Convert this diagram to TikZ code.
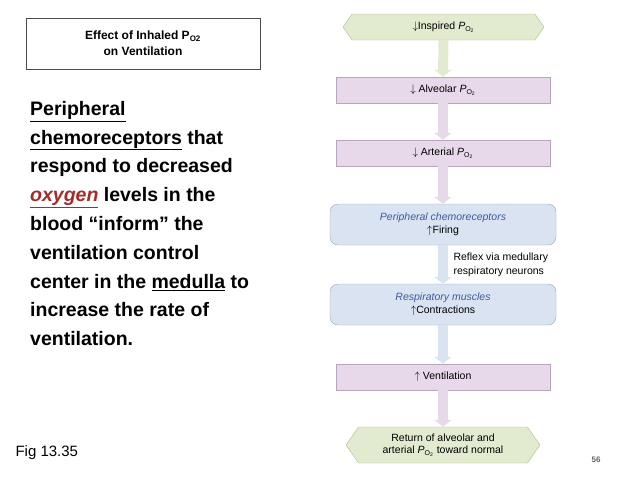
\documentclass[tikz,border=0pt]{standalone}
\usepackage{fontspec}
\setmainfont{Liberation Sans}
\usetikzlibrary{shapes.geometric,shapes.symbols,arrows.meta}
\definecolor{gfill}{HTML}{E2EACF}\definecolor{gdraw}{HTML}{AEBB8E}
\definecolor{pfill}{HTML}{E8D9EA}\definecolor{pdraw}{HTML}{B9A3BE}
\definecolor{bfill}{HTML}{DAE3F2}\definecolor{bdraw}{HTML}{93A6C4}
\definecolor{btext}{HTML}{3F5A9A}\definecolor{red1}{HTML}{A52A2A}
\newcommand{\PO}{\textit{P}\textsubscript{\scriptsize O\textsubscript{2}}}
\begin{document}
\begin{tikzpicture}[x=1pt,y=-1pt,
  hexb/.style={signal,signal to=east and west,signal pointer angle=110,draw=gdraw,fill=gfill,font=\fontsize{10.5}{12}\selectfont,align=center,inner sep=0pt},
  pbox/.style={draw=pdraw,fill=pfill,minimum width=214pt,minimum height=26pt,font=\fontsize{10.5}{12}\selectfont},
  bbox/.style={draw=bdraw,fill=bfill,rounded corners=8pt,minimum width=226pt,minimum height=41pt,font=\fontsize{10.5}{13}\selectfont,align=center},
  garr/.style={line width=10pt,draw=gfill,-{Triangle[width=17pt,length=7pt]}},
  parr/.style={line width=10pt,draw=pfill,-{Triangle[width=17pt,length=7pt]}},
  barr/.style={line width=10pt,draw=bfill,-{Triangle[width=17pt,length=7pt]}}]
\useasboundingbox (0,0) rectangle (641,482);
\node[draw=black!70,minimum width=234pt,minimum height=51pt,align=center,font=\bfseries\fontsize{12}{16}\selectfont] (title) at (143,43.5) {Effect of Inhaled P\textsubscript{O2}\\on Ventilation};
\node[anchor=north west,align=left,inner sep=0pt,font=\bfseries\fontsize{19.5}{28.8}\selectfont] (para) at (30,101) {\underline{Peripheral}\\\underline{chemoreceptors} that\\respond to decreased\\\textcolor{red1}{\underline{\textit{oxygen}}} levels in the\\blood “inform” the\\ventilation control\\center in the \underline{medulla} to\\increase the rate of\\ventilation.};
\node[anchor=west,font=\fontsize{15}{17}\selectfont] (fig) at (12,453) {Fig 13.35};
\node[font=\bfseries\fontsize{8}{9}\selectfont,text=black!60] (pg) at (596,460) {56};
\node[hexb,minimum width=201pt,minimum height=26pt] (insp) at (443.5,27) {$\downarrow$Inspired \PO};
\node[pbox] (alv) at (443,90) {$\downarrow$ Alveolar \PO};
\node[pbox] (art) at (443,153) {$\downarrow$ Arterial \PO};
\node[bbox] (per) at (443,224.5) {\textcolor{btext}{\textit{Peripheral chemoreceptors}}\\$\uparrow$Firing};
\node[bbox] (res) at (443,304.5) {\textcolor{btext}{\textit{Respiratory muscles}}\\$\uparrow$Contractions};
\node[pbox] (ven) at (443,377) {$\uparrow$ Ventilation};
\node[hexb,minimum width=194pt,minimum height=36pt] (ret) at (443,445) {Return of alveolar and\\arterial \PO\ toward normal};
\node[anchor=west,align=left,font=\fontsize{10.5}{13.5}\selectfont] (refl) at (450,265) {Reflex via medullary\\respiratory neurons};
\draw[garr] (insp.south) -- (alv.north);
\draw[parr] (alv.south) -- (art.north);
\draw[parr] (art.south) -- (per.north);
\draw[barr] (per.south) -- (res.north);
\draw[barr] (res.south) -- (ven.north);
\draw[parr] (ven.south) -- (ret.north);
\end{tikzpicture}
\end{document}
